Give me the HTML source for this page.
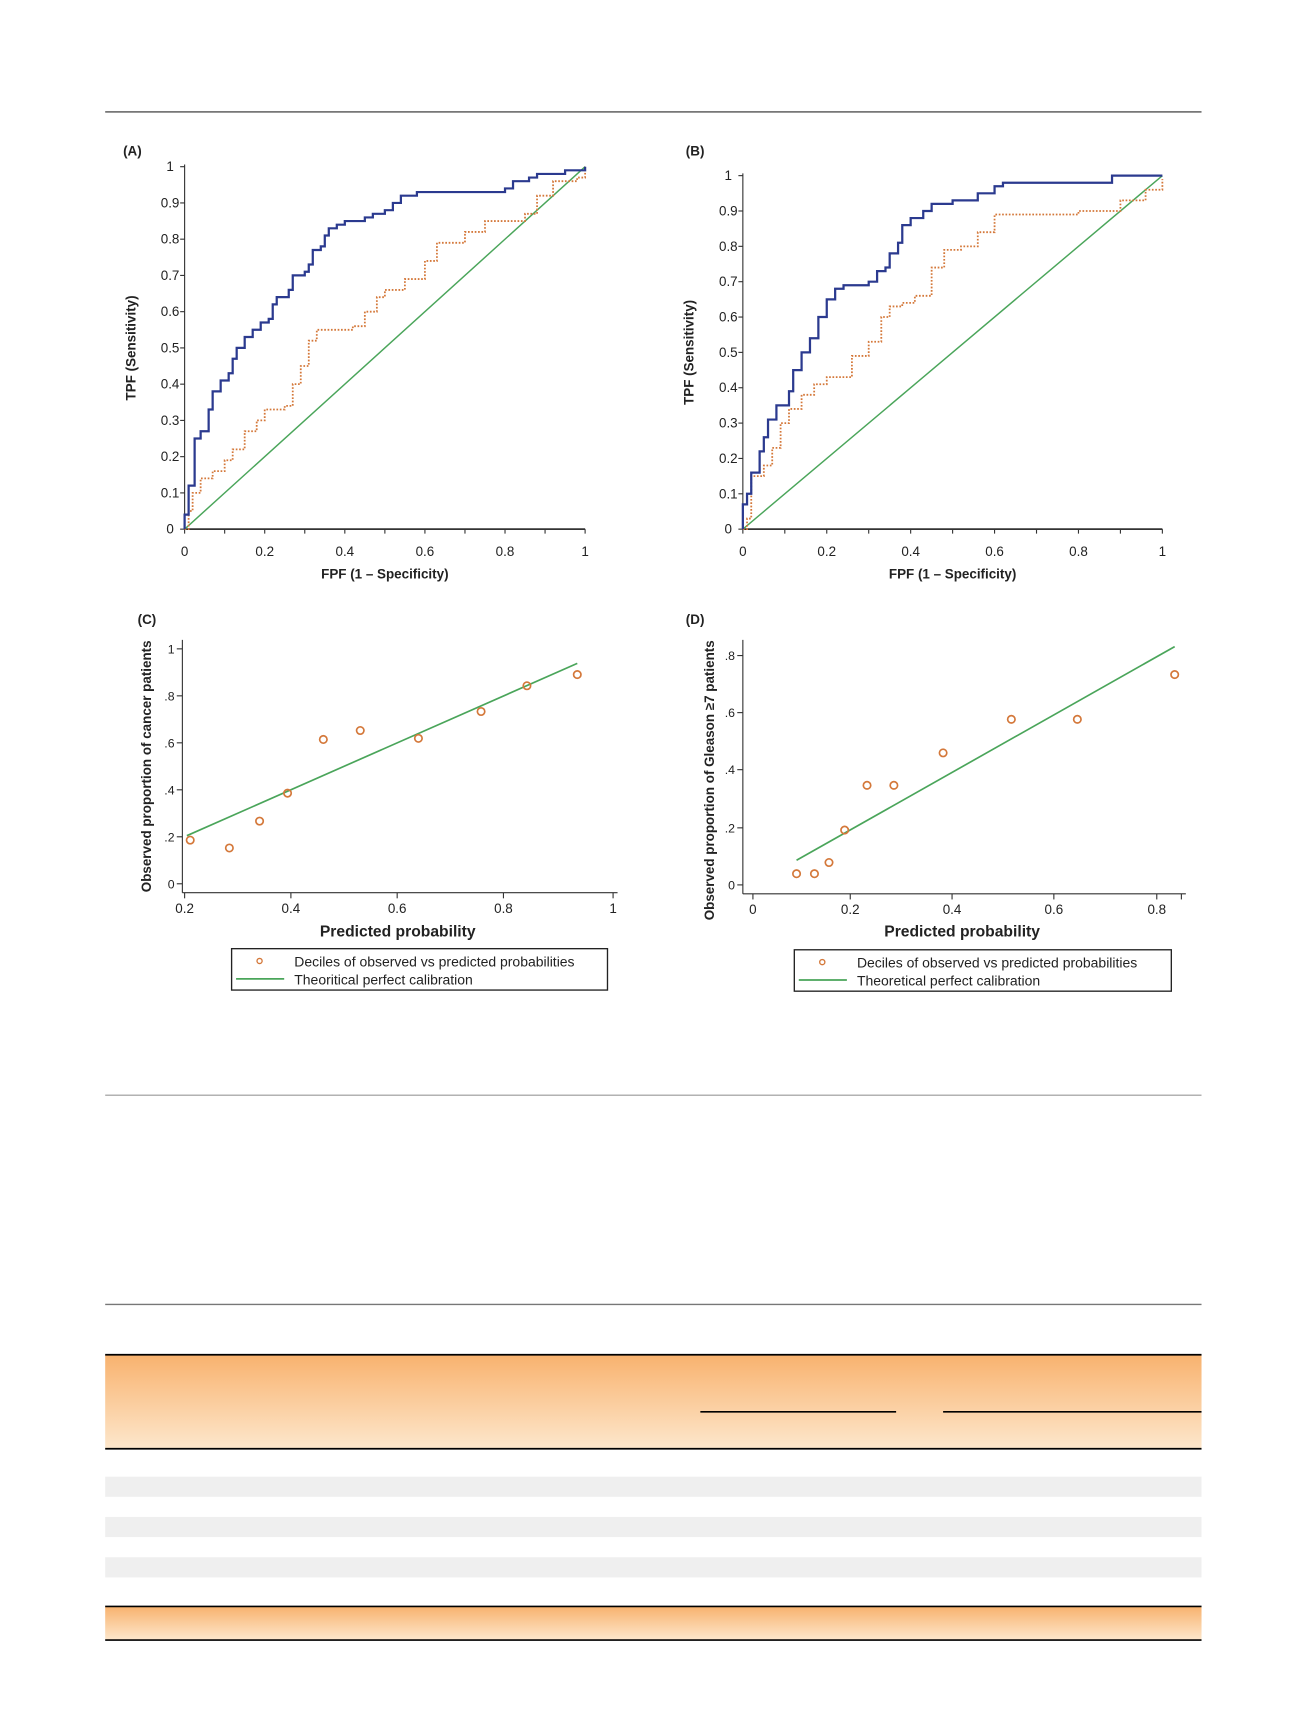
<!DOCTYPE html>
<html><head><meta charset="utf-8"><style>
html,body{margin:0;padding:0;background:#fff;}
svg{display:block;font-family:"Liberation Sans",sans-serif;}
</style></head><body>
<svg id="s" width="1300" height="1734" viewBox="0 0 1162 1550" xmlns="http://www.w3.org/2000/svg">
<defs>
<linearGradient id="og" x1="0" y1="0" x2="0" y2="1"><stop offset="0" stop-color="#f8b26e"/><stop offset="1" stop-color="#fde7cc"/></linearGradient>
</defs>
<rect width="1162" height="1550" fill="#fff"/>
<line x1="94" y1="100" x2="1074" y2="100" stroke="#777" stroke-width="1.5"/>
<line x1="94" y1="979" x2="1074" y2="979" stroke="#999" stroke-width="1"/>
<line x1="94" y1="1166" x2="1074" y2="1166" stroke="#777" stroke-width="1.2"/>
<rect x="94" y="1211" width="980" height="84" fill="url(#og)"/>
<line x1="94" y1="1211" x2="1074" y2="1211" stroke="#000" stroke-width="1.5"/>
<line x1="94" y1="1295" x2="1074" y2="1295" stroke="#000" stroke-width="1.5"/>
<line x1="626" y1="1262" x2="801" y2="1262" stroke="#000" stroke-width="1.5"/>
<line x1="843" y1="1262" x2="1074" y2="1262" stroke="#000" stroke-width="1.5"/>
<rect x="94" y="1320" width="980" height="18" fill="#efefef"/>
<rect x="94" y="1356" width="980" height="18" fill="#efefef"/>
<rect x="94" y="1392" width="980" height="18" fill="#efefef"/>
<rect x="94" y="1436" width="980" height="30" fill="url(#og)"/>
<line x1="94" y1="1436" x2="1074" y2="1436" stroke="#000" stroke-width="1.5"/>
<line x1="94" y1="1466" x2="1074" y2="1466" stroke="#000" stroke-width="1.5"/>
<g id="g"></g>
</svg>
<script>
var g=document.getElementById('g'),h='';
function T(x,y,t,o){o=o||{};h+='<text x="'+x+'" y="'+y+'" font-size="'+(o.fs||12)+'" text-anchor="'+(o.a||'middle')+'"'+(o.b?' font-weight="bold"':'')+(o.r?' transform="rotate(-90 '+x+' '+y+')"':'')+' fill="#222">'+t+'</text>';}
function L(a,b,c,d,s,w,da){h+='<line x1="'+a+'" y1="'+b+'" x2="'+c+'" y2="'+d+'" stroke="'+s+'" stroke-width="'+(w||1)+'"'+(da?' stroke-dasharray="'+da+'"':'')+'/>';}
function roc(x0,x1,y0,y1,lab,lx,blue,org){
 T(lx,139,lab,{b:1,a:'start'});
 L(x0,y0,x0,y1-2,'#333',1);L(x0,y0,x1,y0,'#333',1.5);
 for(var i=0;i<=10;i++){var y=y0+(y1-y0)*i/10;L(x0-4,y,x0,y,'#333');T(x0-13,y+4,(i==10?'1':i==0?'0':(i/10).toFixed(1)),{fs:12});}
 for(var i=0;i<=10;i++){var x=x0+(x1-x0)*i/10;L(x,y0,x,y0+4,'#333');}
 for(var i=0;i<=5;i++){var x=x0+(x1-x0)*i/5;T(x,y0+24,(i==5?'1':i==0?'0':(i/5).toFixed(1)),{fs:12});}
 T((x0+x1)/2,y0+44,'FPF (1 \u2013 Specificity)',{b:1,fs:12});
 T(x0-44,(y0+y1)/2,'TPF (Sensitivity)',{b:1,fs:12,r:1});
 L(x0,y0,x1,y1,'#4aa55a',1.3);
 function P(pts,col,w,da){var d='M'+x0+' '+y0;pts.forEach(function(p){var X=x0+(x1-x0)*p[0],Y=y0+(y1-y0)*p[1];d+=' H'+X+' V'+Y;});h+='<path d="'+d+'" fill="none" stroke="'+col+'" stroke-width="'+w+'"'+(da?' stroke-dasharray="'+da+'"':'')+'/>';}
 P(org,'#d4783a',1.6,'1.5,1.5');P(blue,'#2b3a8f',2);
}
roc(165,523,473,149,'(A)',110,
[[0,.04],[.01,.12],[.025,.25],[.04,.27],[.06,.33],[.07,.38],[.09,.41],[.11,.43],[.12,.47],[.13,.5],[.15,.53],[.17,.55],[.19,.57],[.21,.58],[.22,.62],[.23,.64],[.26,.66],[.27,.7],[.3,.71],[.31,.73],[.32,.77],[.34,.78],[.35,.81],[.36,.83],[.38,.84],[.4,.85],[.45,.86],[.47,.87],[.5,.88],[.52,.9],[.54,.92],[.58,.93],[.75,.93],[.8,.94],[.82,.96],[.86,.97],[.88,.98],[.95,.99],[1,1]],
[[.01,.05],[.02,.1],[.04,.14],[.07,.16],[.1,.19],[.12,.22],[.15,.27],[.18,.3],[.2,.33],[.25,.34],[.27,.4],[.29,.45],[.31,.52],[.33,.55],[.42,.56],[.45,.6],[.48,.64],[.5,.66],[.55,.69],[.6,.74],[.63,.79],[.7,.82],[.75,.85],[.85,.87],[.88,.92],[.92,.96],[.98,.97],[1,1]]);
roc(664,1039,473,157,'(B)',613,
[[0,.07],[.01,.1],[.02,.16],[.04,.22],[.05,.26],[.06,.31],[.08,.35],[.11,.39],[.12,.45],[.14,.5],[.16,.54],[.18,.6],[.2,.65],[.22,.68],[.24,.69],[.3,.7],[.32,.73],[.34,.74],[.35,.78],[.37,.81],[.38,.86],[.4,.88],[.43,.9],[.45,.92],[.5,.93],[.56,.95],[.6,.97],[.62,.98],[.85,.98],[.88,1],[1,1]],
[[.01,.03],[.02,.15],[.05,.18],[.07,.23],[.09,.3],[.11,.34],[.14,.38],[.17,.41],[.2,.43],[.24,.43],[.26,.49],[.3,.53],[.33,.6],[.35,.63],[.38,.64],[.41,.66],[.45,.74],[.48,.79],[.52,.8],[.56,.84],[.6,.89],[.7,.89],[.8,.9],[.9,.93],[.96,.96],[1,.99]]);
function cal(lab,lx,ax,ay,yt,xt,pts,ln,ylab,ylx,lg,lgt){
 T(lx,558,lab,{b:1,a:'start'});
 L(ax,572,ax,ay,'#333',1);L(ax,ay,xt[xt.length-1][0]+4,ay,'#333',1);
 yt.forEach(function(t){L(ax-5,t[0],ax,t[0],'#333');T(ax-7,t[0]+4,t[1],{fs:11,a:'end'});});
 xt.forEach(function(t){L(t[0],ay,t[0],ay+5,'#333');T(t[0],ay+18,t[1],{fs:12});});
 L(ln[0],ln[1],ln[2],ln[3],'#4aa55a',1.5);
 pts.forEach(function(p){h+='<circle cx="'+p[0]+'" cy="'+p[1]+'" r="3.3" fill="none" stroke="#d4783a" stroke-width="1.5"/>';});
 T((ax+xt[xt.length-1][0])/2,837,'Predicted probability',{b:1,fs:14});
 T(ylx,(572+ay)/2+(lab=='(D)'?12:0),ylab,{b:1,fs:12,r:1});
 h+='<rect x="'+lg[0]+'" y="'+lg[1]+'" width="'+lg[2]+'" height="37" fill="#fff" stroke="#222" stroke-width="1.2"/>';
 h+='<circle cx="'+(lg[0]+25)+'" cy="'+(lg[1]+11)+'" r="2.3" fill="none" stroke="#d4783a" stroke-width="1.2"/>';
 L(lg[0]+4,lg[1]+27,lg[0]+47,lg[1]+27,'#4aa55a',1.5);
 T(lg[0]+56,lg[1]+16,'Deciles of observed vs predicted probabilities',{a:'start',fs:12.5});
 T(lg[0]+56,lg[1]+32,lgt,{a:'start',fs:12.5});
}
cal('(C)',123,163,798,[[580,'1'],[622,'.8'],[664,'.6'],[706,'.4'],[748,'.2'],[790,'0']],[[165,'0.2'],[260,'0.4'],[355,'0.6'],[450,'0.8'],[548,'1']],
[[170,751],[205,758],[232,734],[257,709],[289,661],[322,653],[374,660],[430,636],[471,613],[516,603]],[167,747,516,593],'Observed proportion of cancer patients',135,[207,848,336],'Theoritical perfect calibration');
cal('(D)',613,664,799,[[586,'.8'],[637,'.6'],[688,'.4'],[740,'.2'],[791,'0']],[[673,'0'],[760,'0.2'],[851,'0.4'],[942,'0.6'],[1034,'0.8'],[1056,'']],
[[712,781],[728,781],[741,771],[755,742],[775,702],[799,702],[843,673],[904,643],[963,643],[1050,603]],[712,769,1050,578],'Observed proportion of Gleason \u22657 patients',638,[710,849,337],'Theoretical perfect calibration');
g.innerHTML=h;
</script>
</body></html>
